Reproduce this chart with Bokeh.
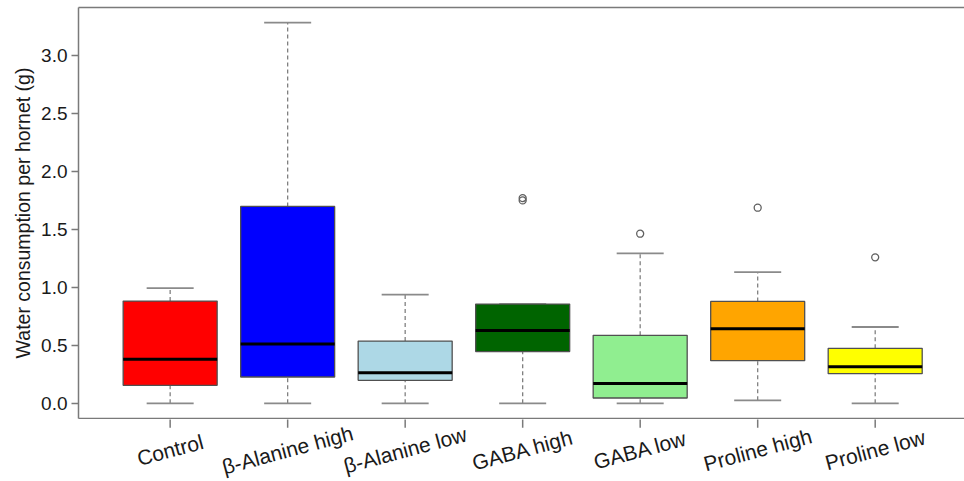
import numpy as np
from bokeh.plotting import figure
from bokeh.layouts import column
from bokeh.models import (ColumnDataSource, FixedTicker, LinearAxis,
                          Range1d, PrintfTickFormatter)
from bokeh.core.properties import value
from bokeh.embed import file_html
from bokeh.resources import INLINE

# ---------------- data ----------------
categories = ["Control", "β-Alanine high", "β-Alanine low", "GABA high",
              "GABA low", "Proline high", "Proline low"]
box_colors = ["#FF0000", "#0000FF", "#ADD8E6", "#006400",
              "#90EE90", "#FFA500", "#FFFF00"]
whisker_low = [0.0, 0.0, 0.0, 0.0, 0.0, 0.026, 0.0]
q1 = [0.155, 0.227, 0.198, 0.446, 0.046, 0.368, 0.256]
median = [0.379, 0.511, 0.264, 0.629, 0.170, 0.644, 0.316]
q3 = [0.882, 1.698, 0.537, 0.856, 0.586, 0.879, 0.474]
whisker_high = [0.994, 3.284, 0.937, 0.856, 1.293, 1.132, 0.658]
outlier_group = ["GABA high", "GABA high", "GABA low", "Proline high", "Proline low"]
outlier_value = [1.750, 1.770, 1.463, 1.687, 1.259]
y_ticks = [0.0, 0.5, 1.0, 1.5, 2.0, 2.5, 3.0]
y_label = "Water consumption per hornet (g)"

# ---------------- derived ----------------
pos = np.arange(1, len(categories) + 1, dtype=float)
box_w = 0.8
cap_w = 0.4
src = ColumnDataSource(dict(
    x=pos, cat=categories, color=box_colors,
    lo=whisker_low, q1=q1, med=median, q3=q3, hi=whisker_high,
    bx0=pos - box_w / 2, bx1=pos + box_w / 2,
    cx0=pos - cap_w / 2, cx1=pos + cap_w / 2,
))
out_src = ColumnDataSource(dict(
    x=[pos[categories.index(c)] for c in outlier_group], y=outlier_value))

FONT = "Liberation Sans"
AX_COL = "#7a7a7a"
TXT_COL = "#1a1a1a"

y_lo, y_hi = -0.131, 3.414          # plotting range of the value axis
x_range = Range1d(0.22, 7.76)

p = figure(width=964, height=419, output_backend="svg", toolbar_location=None,
           x_range=x_range, y_range=Range1d(y_lo, y_hi), x_axis_type=None,
           min_border_left=78, min_border_right=0, min_border_top=7,
           min_border_bottom=1)
p.outline_line_color = None
p.xgrid.visible = False
p.ygrid.visible = False
p.background_fill_color = "white"
p.border_fill_color = "white"

# whiskers
p.segment(x0="x", x1="x", y0="q3", y1="hi", source=src, line_color="#808080",
          line_width=1.3, line_dash="4 3")
p.segment(x0="x", x1="x", y0="lo", y1="q1", source=src, line_color="#808080",
          line_width=1.3, line_dash="4 3")
# caps
p.segment(x0="cx0", x1="cx1", y0="hi", y1="hi", source=src, line_color="#8a8a8a",
          line_width=1.8)
p.segment(x0="cx0", x1="cx1", y0="lo", y1="lo", source=src, line_color="#8a8a8a",
          line_width=1.8)
# boxes
p.vbar(x="x", width=box_w, bottom="q1", top="q3", source=src,
       fill_color="color", line_color="#505050", line_width=1.3)
# medians
p.segment(x0="bx0", x1="bx1", y0="med", y1="med", source=src,
          line_color="black", line_width=3)
# outliers
p.scatter(x="x", y="y", source=out_src, marker="circle", size=7,
          fill_color=None, line_color="#606060", line_width=1.3)

# y axis
ya = p.yaxis[0]
ya.ticker = FixedTicker(ticks=y_ticks)
ya.formatter = PrintfTickFormatter(format="%.1f")
ya.axis_label = y_label
ya.axis_label_text_font = FONT
ya.axis_label_text_font_size = "19.5px"
ya.axis_label_text_font_style = "normal"
ya.axis_label_text_color = TXT_COL
ya.axis_label_standoff = 4
ya.major_label_text_font = FONT
ya.major_label_text_font_size = "19px"
ya.major_label_text_color = TXT_COL
ya.major_label_standoff = 4
ya.major_tick_out = 7
ya.major_tick_in = 0
ya.minor_tick_out = 0
ya.minor_tick_in = 0
ya.axis_line_color = AX_COL
ya.axis_line_width = 1.5
ya.major_tick_line_color = AX_COL
ya.major_tick_line_width = 1.5

# bottom and top frame lines (no labels)
for side in ("below", "above"):
    ax = LinearAxis(ticker=FixedTicker(ticks=[]), major_tick_out=0, major_tick_in=0,
                    minor_tick_out=0, minor_tick_in=0, major_label_standoff=0,
                    axis_line_color=AX_COL, axis_line_width=1.5)
    p.add_layout(ax, side)

# strip below: category ticks + rotated category labels (same x scale,
# value scale continued below the plot)
p2 = figure(width=964, height=62, output_backend="svg", toolbar_location=None,
            x_range=x_range, y_range=Range1d(-0.672, -0.138),
            min_border_left=78, min_border_right=0, min_border_top=0,
            min_border_bottom=0, x_axis_type=None, y_axis_type=None)
p2.outline_line_color = None
p2.xgrid.visible = False
p2.ygrid.visible = False
p2.background_fill_color = "white"
p2.border_fill_color = "white"
p2.segment(x0="x", x1="x", y0=y_lo, y1=-0.209, source=src,
           line_color=AX_COL, line_width=1.5)
p2.text(x="x", y=-0.400, text="cat", source=src, angle=np.deg2rad(15),
        text_align="center", text_baseline="middle", text_font=value(FONT),
        text_font_size="21px", text_color=TXT_COL)

layout = column(p, p2, spacing=0)
open("out.html", "w").write(file_html(layout, INLINE))
